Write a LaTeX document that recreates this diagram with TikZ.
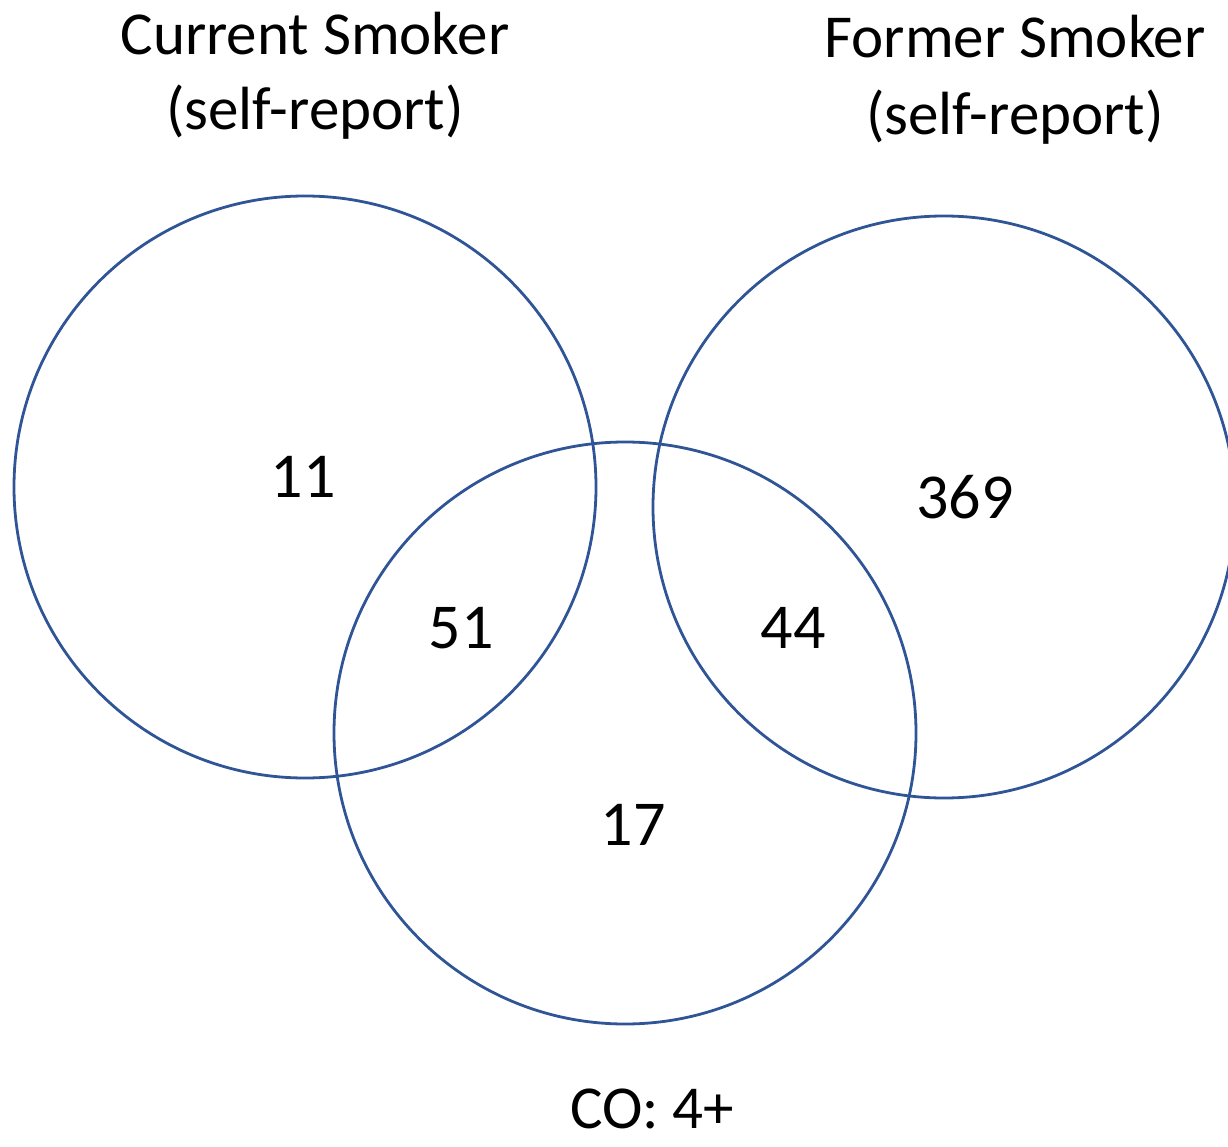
\documentclass[tikz,border=0pt]{standalone}
\usepackage{fontspec}
\setmainfont{Carlito}
\definecolor{ringblue}{HTML}{2F5597}
\begin{document}
\begin{tikzpicture}[x=1pt,y=-1pt,
  ring/.style={draw=ringblue,line width=2.8pt},
  title/.style={anchor=base,inner sep=0pt,font=\fontsize{61}{70}\selectfont},
  count/.style={anchor=base,inner sep=0pt,font=\fontsize{64}{72}\selectfont}]
\useasboundingbox (0,0) rectangle (1228,1147);
\begin{scope}
\clip (0,0) rectangle (1228,1147);
\draw[ring] (305,487) circle (291);
\draw[ring] (944,507) circle (291);
\draw[ring] (625,733) circle (291);
\end{scope}
\node[title] (cs1) at (315,55) {Current Smoker};
\node[title] (cs2) at (315,130) {(self-report)};
\node[title] (fs1) at (1015,58) {Former Smoker};
\node[title] (fs2) at (1015,135) {(self-report)};
\node[count] (n11) at (303,497) {11};
\node[count] (n51) at (461,648) {51};
\node[count] (n44) at (793,648) {44};
\node[count] (n369) at (965,518) {369};
\node[count] (n17) at (633,845) {17};
\node[title] (co) at (652,1128) {CO: 4+};
\end{tikzpicture}
\end{document}
